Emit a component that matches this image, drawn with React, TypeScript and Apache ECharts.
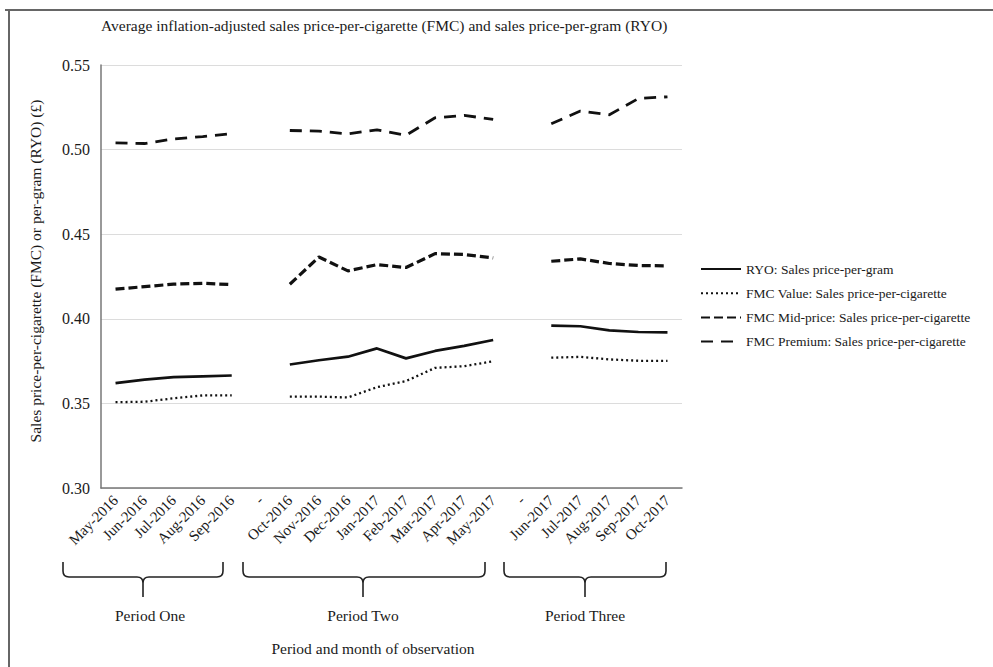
import React, { useEffect, useRef } from "react";
import * as echarts from "echarts";

const categories = [
  "May-2016", "Jun-2016", "Jul-2016", "Aug-2016", "Sep-2016",
  "-",
  "Oct-2016", "Nov-2016", "Dec-2016", "Jan-2017", "Feb-2017", "Mar-2017", "Apr-2017", "May-2017",
  "-",
  "Jun-2017", "Jul-2017", "Aug-2017", "Sep-2017", "Oct-2017",
];

const ryo = [
  0.362, 0.364, 0.3655, 0.366, 0.3665,
  null,
  0.373, 0.3755, 0.3776, 0.3825, 0.3766, 0.381, 0.384, 0.3875,
  null,
  0.396, 0.3956, 0.3932, 0.3922, 0.392,
];

const fmcValue = [
  0.3507, 0.351, 0.353, 0.3547, 0.3547,
  null,
  0.354, 0.354, 0.3535, 0.3596, 0.3632, 0.371, 0.372, 0.3749,
  null,
  0.377, 0.3775, 0.376, 0.3752, 0.3751,
];

const fmcMid = [
  0.4175, 0.419, 0.4205, 0.421, 0.4202,
  null,
  0.4204, 0.4365, 0.4283, 0.432, 0.4303, 0.4385, 0.438, 0.436,
  null,
  0.434, 0.4354, 0.4327, 0.4315, 0.4313,
];

const fmcPremium = [
  0.504, 0.5036, 0.5063, 0.5077, 0.5095,
  null,
  0.5113, 0.5109, 0.5093, 0.5117, 0.5085, 0.5188, 0.5202, 0.5179,
  null,
  0.5153, 0.5228, 0.5206, 0.5302, 0.5312,
];

const yTicks = { min: 0.3, max: 0.55, interval: 0.05 };

const seriesNames = [
  "RYO: Sales price-per-gram",
  "FMC Value: Sales price-per-cigarette",
  "FMC Mid-price: Sales price-per-cigarette",
  "FMC Premium: Sales price-per-cigarette",
];

const periodLabels = ["Period One", "Period Two", "Period Three"];
const chartTitle =
  "Average inflation-adjusted sales price-per-cigarette (FMC) and sales price-per-gram (RYO)";
const yAxisTitle = "Sales price-per-cigarette (FMC) or per-gram (RYO) (£)";
const xAxisTitle = "Period and month of observation";

const FONT = "'Liberation Serif', 'Times New Roman', serif";
const INK = "#1a1a1a";

function bracePath(x1: number, xm: number, x2: number, yTop: number, yMid: number, yTip: number) {
  const r = 6;
  return (
    `M${x1},${yTop} L${x1},${yMid - r} Q${x1},${yMid} ${x1 + r},${yMid} ` +
    `L${xm - r},${yMid} Q${xm},${yMid} ${xm},${yMid + r} L${xm},${yTip} ` +
    `M${xm},${yMid + r} Q${xm},${yMid} ${xm + r},${yMid} ` +
    `L${x2 - r},${yMid} Q${x2},${yMid} ${x2},${yMid - r} L${x2},${yTop}`
  );
}

const braceSpecs = [
  { x1: 63, xm: 143, x2: 223 },
  { x1: 243, xm: 363, x2: 485 },
  { x1: 504, xm: 585, x2: 666 },
];

braceSpecs.forEach((b, i) => {
  echarts.graphic.registerShape(
    "brace" + i,
    echarts.graphic.extendPath(bracePath(b.x1, b.xm, b.x2, 562, 577, 597), {})
  );
});

export default function App() {
  const ref = useRef<HTMLDivElement>(null);

  useEffect(() => {
    if (!ref.current) return;
    const chart = echarts.init(ref.current, null, { renderer: "svg" });

    const lineBase = { type: "line", symbol: "none", connectNulls: false, smooth: false };

    const graphics: any[] = [
      { type: "line", shape: { x1: 5, y1: 10, x2: 993, y2: 10 }, style: { stroke: "#666", lineWidth: 2 } },
      { type: "line", shape: { x1: 9, y1: 10, x2: 9, y2: 667 }, style: { stroke: "#666", lineWidth: 2 } },
    ];
    braceSpecs.forEach((b, i) => {
      graphics.push({
        type: "brace" + i,
        x: 0,
        y: 0,
        style: { stroke: "#222", lineWidth: 1.6, fill: "none" },
      });
      graphics.push({
        type: "text",
        x: b.xm + (i === 0 ? 7 : 0),
        y: 615,
        style: {
          text: periodLabels[i],
          font: `15.5px ${FONT}`,
          fill: INK,
          textAlign: "center",
          textVerticalAlign: "middle",
        },
      });
    });
    graphics.push({
      type: "text",
      x: 373,
      y: 648,
      style: {
        text: xAxisTitle,
        font: `15.5px ${FONT}`,
        fill: INK,
        textAlign: "center",
        textVerticalAlign: "middle",
      },
    });
    graphics.push({
      type: "text",
      x: 35,
      y: 271,
      rotation: Math.PI / 2,
      style: {
        text: yAxisTitle,
        fontFamily: FONT,
        fontSize: 15.5,
        fill: INK,
        textAlign: "center",
        textVerticalAlign: "middle",
      },
    });

    chart.setOption({
      animation: false,
      backgroundColor: "#fff",
      title: {
        text: chartTitle,
        left: 96,
        top: 12,
        textStyle: { fontFamily: FONT, fontSize: 15.5, fontWeight: "normal", color: INK },
      },
      grid: { left: 101, right: 311, top: 65, bottom: 179, containLabel: false },
      legend: {
        orient: "vertical",
        left: 695,
        top: 257,
        itemWidth: 40,
        itemHeight: 12,
        itemGap: 10.2,
        itemStyle: { opacity: 0 },
        textStyle: { fontFamily: FONT, fontSize: 13.5, color: INK },
        data: seriesNames,
      },
      xAxis: {
        type: "category",
        data: categories,
        boundaryGap: true,
        axisLine: { show: true, lineStyle: { color: "#777", width: 1.5 } },
        axisTick: { show: false },
        axisLabel: {
          interval: 0,
          rotate: 45,
          margin: 10,
          fontFamily: FONT,
          fontSize: 15,
          color: INK,
        },
        splitLine: { show: false },
      },
      yAxis: {
        type: "value",
        min: yTicks.min,
        max: yTicks.max,
        interval: yTicks.interval,
        axisLine: { show: true, lineStyle: { color: "#777", width: 1.5 } },
        axisTick: { show: false },
        axisLabel: {
          margin: 11,
          fontFamily: FONT,
          fontSize: 16,
          color: INK,
          formatter: (v: number) => v.toFixed(2),
        },
        splitLine: { show: true, lineStyle: { color: "#dcdcdc", width: 1.2 } },
      },
      series: [
        { ...lineBase, name: seriesNames[0], data: ryo, lineStyle: { color: "#111", width: 2.7, type: "solid" }, itemStyle: { color: "#111" } },
        { ...lineBase, name: seriesNames[1], data: fmcValue, lineStyle: { color: "#111", width: 2.3, type: [2, 3] }, itemStyle: { color: "#111" } },
        { ...lineBase, name: seriesNames[2], data: fmcMid, lineStyle: { color: "#111", width: 3.2, type: [9, 4] }, itemStyle: { color: "#111" } },
        { ...lineBase, name: seriesNames[3], data: fmcPremium, lineStyle: { color: "#111", width: 2.8, type: [12, 8] }, itemStyle: { color: "#111" } },
      ],
      graphic: graphics,
    });

    return () => chart.dispose();
  }, []);

  return (
    <div
      ref={ref}
      style={{ position: "absolute", left: 0, top: 0, width: 993, height: 667 }}
    />
  );
}
